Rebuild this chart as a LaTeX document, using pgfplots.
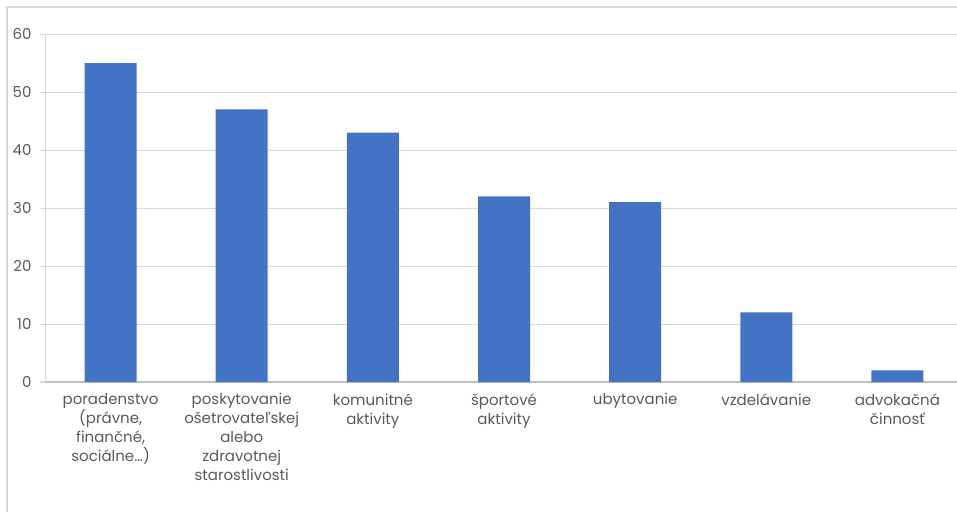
\documentclass[border=0pt]{standalone}
\usepackage{pgfplots}
\pgfplotsset{compat=1.18}
\usepackage{fontspec}
\setmainfont{Poppins}
\definecolor{barc}{HTML}{4472C4}
\definecolor{txt}{HTML}{595959}
\definecolor{gridc}{HTML}{D9D9D9}
\definecolor{axl}{HTML}{BFBFBF}
\begin{document}
\begin{tikzpicture}
\useasboundingbox (0,0) rectangle (957pt,511pt);
\draw[gridc, line width=1.3pt] (7pt,-5pt) -- (7pt,504pt) -- (965pt,504pt);
\begin{axis}[
  at={(45pt,129pt)}, anchor=south west, scale only axis,
  width=918pt, height=348pt,
  xmin=-0.5, xmax=6.5, ymin=0, ymax=60, ytick={0,10,...,60},
  ybar, bar width=52pt,
  axis lines*=left,
  x axis line style={axl, line width=1pt},
  y axis line style={gridc, line width=1pt},
  ymajorgrids, grid style={gridc, line width=1pt},
  tick align=outside, major tick length=5pt,
  y tick style={gridc, line width=1pt},
  x tick style={draw=none},
  xtick={0,...,6},
  xticklabels={{poradenstvo\\(právne,\\finančné,\\sociálne…)},
    {poskytovanie\\ošetrovateľskej\\alebo\\zdravotnej\\starostlivosti},
    {komunitné\\aktivity},{športové\\aktivity},{ubytovanie},{vzdelávanie},
    {advokačná\\činnosť}},
  extra x ticks={-0.5,0.5,...,6.5},
  extra x tick labels={},
  extra x tick style={tick style={draw=axl, line width=1pt}, grid=none},
  xticklabel style={align=center, anchor=north, yshift=-3pt,
    font=\fontsize{15pt}{19pt}\selectfont, text=txt},
  yticklabel style={font=\fontsize{15pt}{19pt}\selectfont, text=txt, xshift=-5pt},
  /pgf/number format/assume math mode=true,
]
\addplot[fill=barc, draw=none] coordinates {(0,55) (1,47) (2,43) (3,32) (4,31) (5,12) (6,2)};
\end{axis}
\end{tikzpicture}
\end{document}
